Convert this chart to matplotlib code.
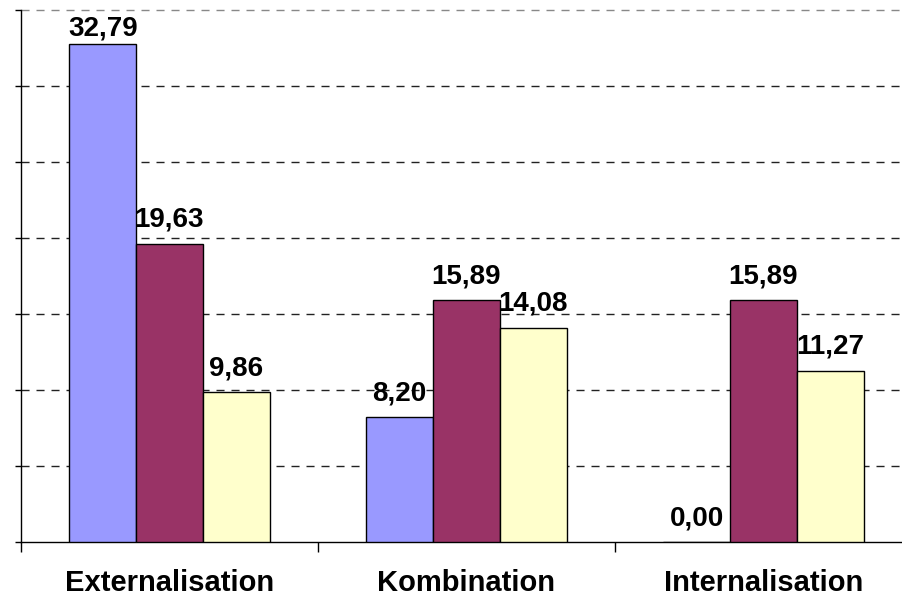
import matplotlib
matplotlib.use("Agg")
import matplotlib.pyplot as plt
import numpy as np

categories = ["Externalisation", "Kombination", "Internalisation"]
series_a = [32.79, 8.20, 0.00]
series_b = [19.63, 15.89, 15.89]
series_c = [9.86, 14.08, 11.27]
value_labels = [["32,79", "8,20", "0,00"],
                ["19,63", "15,89", "15,89"],
                ["9,86", "14,08", "11,27"]]

colors = ["#9999FF", "#993366", "#FFFFCC"]
font = "Liberation Sans"

fig = plt.figure(figsize=(9.03, 5.98), dpi=100)
left = 21 / 903
bottom = (598 - 542) / 598
top = (598 - 10) / 598
width = (912 - 21) / 903
ax = fig.add_axes([left, bottom, width, top - bottom])

x = np.arange(len(categories))
w = 0.225
ymax = 35
px_per_unit = 532 / ymax

for i, (vals, col) in enumerate(zip([series_a, series_b, series_c], colors)):
    pos = x + (i - 1) * w
    ax.bar(pos, vals, width=w, color=col, edgecolor="black", linewidth=1.0,
           zorder=3)
    for xp, v, lab in zip(pos, vals, value_labels[i]):
        y = min(v + 17 / px_per_unit, (542 - 35) / px_per_unit)
        ax.text(xp, y, lab, ha="center", va="baseline", fontsize=20,
                fontweight="bold", family=font, zorder=4)

ax.set_xlim(-0.5, 2.5)
ax.set_ylim(0, ymax)

# horizontal dashed gridlines
for gy in np.arange(5, ymax + 1, 5):
    ax.axhline(gy, color="#222222" if gy < ymax else "#888888",
               linewidth=1.0, dashes=(5.8, 5.0), zorder=1, clip_on=False)

for side in ["top", "right"]:
    ax.spines[side].set_visible(False)
ax.spines["left"].set_linewidth(1.0)
ax.spines["bottom"].set_linewidth(1.0)

ax.set_yticks(np.arange(0, ymax + 1, 5))
ax.set_yticklabels([])
ax.tick_params(axis="y", direction="out", length=4.5, width=1.0)

ax.set_xticks([-0.5, 0.5, 1.5, 2.5])
ax.set_xticklabels([])
ax.tick_params(axis="x", which="major", direction="out", length=7, width=1.0)
ax.set_xticks(x, minor=True)
ax.set_xticklabels(categories, minor=True, fontsize=21, fontweight="bold",
                   family=font)
ax.tick_params(axis="x", which="minor", length=0, pad=19.5)

fig.savefig("out.png", dpi=100)
